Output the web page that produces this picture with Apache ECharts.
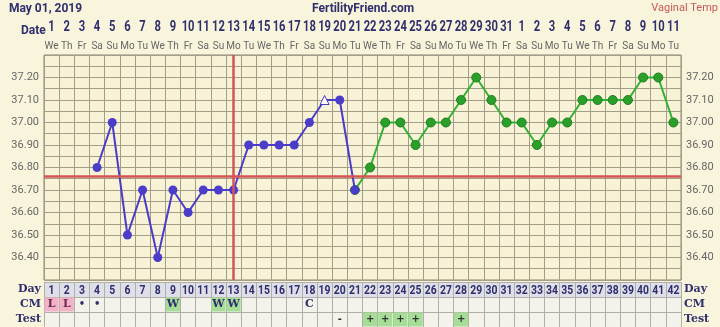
<!DOCTYPE html>
<html><head><meta charset="utf-8">
<script src="https://cdn.jsdelivr.net/npm/echarts@6/dist/echarts.min.js"></script>
<style>html,body{margin:0;padding:0;background:#f9f4dc;}#c{width:720px;height:327px;}</style>
</head><body><div id="c"></div>
<script>
var cycleDays = ['1','2','3','4','5','6','7','8','9','10','11','12','13','14','15','16','17','18','19','20','21','22','23','24','25','26','27','28','29','30','31','32','33','34','35','36','37','38','39','40','41','42'];
var dateLabels = ['1','2','3','4','5','6','7','8','9','10','11','12','13','14','15','16','17','18','19','20','21','22','23','24','25','26','27','28','29','30','31','1','2','3','4','5','6','7','8','9','10','11'];
var weekdays = ['We','Th','Fr','Sa','Su','Mo','Tu','We','Th','Fr','Sa','Su','Mo','Tu','We','Th','Fr','Sa','Su','Mo','Tu','We','Th','Fr','Sa','Su','Mo','Tu','We','Th','Fr','Sa','Su','Mo','Tu','We','Th','Fr','Sa','Su','Mo','Tu'];
var preTemps = [null,null,null,36.80,37.00,36.50,36.70,36.40,36.70,36.60,36.70,36.70,36.70,36.90,36.90,36.90,36.90,37.00,37.10,37.10,36.70,null,null,null,null,null,null,null,null,null,null,null,null,null,null,null,null,null,null,null,null,null];
var postTemps = [null,null,null,null,null,null,null,null,null,null,null,null,null,null,null,null,null,null,null,null,36.70,36.80,37.00,37.00,36.90,37.00,37.00,37.10,37.20,37.10,37.00,37.00,36.90,37.00,37.00,37.10,37.10,37.10,37.10,37.20,37.20,37.00];
var discardedDay = 19;
var coverLine = 36.76;
var ovulationDayIndex = 12;
var cmRow = ['L','L','•','•','','','','','W','','','W','W','','','','','C','','','','','','','','','','','','','','','','','','','','','','','',''];
var testRow = ['','','','','','','','','','','','','','','','','','','','-','','+','+','+','+','','','+','','','','','','','','','','','','','',''];
var tableRows = ['Test','CM','Day'];

var NAVY = '#2f2f6e', BLUE = '#4b3cc9', GREEN = '#2a9f2a';
var cellColors = {'L':'#f2b3c6','W':'#a6de98','+':'#a6de98'};

var tableData = [];
cycleDays.forEach(function(d,i){ tableData.push([i,2,d,null]); });
cmRow.forEach(function(t,i){ if(t) tableData.push([i,1,t,cellColors[t]||null]); });
testRow.forEach(function(t,i){ if(t) tableData.push([i,0,t,cellColors[t]||null]); });
var dateData = dateLabels.map(function(d,i){ return [i, 37.3, d]; });

var preData = preTemps.map(function(v,i){
  if (v!==null && cycleDays[i]===String(discardedDay)) return {value:v, symbol:'triangle', symbolSize:9, itemStyle:{color:'#ffffff', borderColor:BLUE, borderWidth:1}};
  return v;
});

function yFmt(v){ var r=Math.round(v*100); if (r%10!==0 || r<3640 || r>3720) return ''; return (r/100).toFixed(2); }
function narrowText(txt, x, y, font, fill){
  return {type:'text', x:x, y:y, scaleX:0.8, style:{text:txt, x:0, y:0, align:'center', verticalAlign:'middle', font:font, fill:fill}};
}

var chart = echarts.init(document.getElementById('c'));
chart.setOption({
  backgroundColor:'#f9f4dc',
  animation:false,
  graphic:[
    {type:'text', left:9, top:3, style:{text:'May 01, 2019', font:'bold 12px Roboto', fill:NAVY}},
    {type:'text', left:312, top:3, style:{text:'FertilityFriend.com', font:'bold 12px Roboto', fill:NAVY}},
    {type:'text', right:2, top:3, style:{text:'Vaginal Temp', font:'11px Roboto', fill:'#c65a5a'}},
    {type:'text', left:21, top:25, style:{text:'Date', font:'bold 12px Roboto', fill:NAVY}}
  ],
  grid:[
    {left:44, right:39, top:55, height:225, show:true, backgroundColor:'#f8f3d6', borderColor:'#8a8470', borderWidth:1},
    {left:44, right:39, top:282, height:45, show:false}
  ],
  xAxis:[
    {type:'category', gridIndex:0, position:'top', data:weekdays, boundaryGap:true,
     axisLine:{show:false}, axisTick:{show:false},
     axisLabel:{interval:0, margin:4, fontSize:10, color:'#666', fontFamily:'Roboto'},
     splitLine:{show:true, interval:0, lineStyle:{color:'#a49e88', width:1}}},
    {type:'category', gridIndex:1, data:cycleDays, boundaryGap:true,
     axisLine:{show:false}, axisTick:{show:false}, axisLabel:{show:false},
     splitLine:{show:true, interval:0, lineStyle:{color:'#b0b0a8', width:1}}}
  ],
  yAxis:[
    {type:'value', gridIndex:0, min:36.3, max:37.3, interval:0.05, position:'left',
     axisLine:{show:false}, axisTick:{show:false},
     axisLabel:{formatter:yFmt, fontSize:11, color:'#666', margin:5, fontFamily:'Roboto'},
     splitLine:{show:true, lineStyle:{color:'#a49e88', width:1}}},
    {type:'value', gridIndex:0, min:36.3, max:37.3, interval:0.05, position:'right',
     axisLine:{show:false}, axisTick:{show:false},
     axisLabel:{formatter:yFmt, fontSize:11, color:'#666', margin:5, fontFamily:'Roboto'},
     splitLine:{show:false}},
    {type:'category', gridIndex:1, data:tableRows, position:'left',
     axisLine:{show:false}, axisTick:{show:false},
     axisLabel:{margin:3, fontSize:11, fontWeight:'bold', color:NAVY, fontFamily:'DejaVu Serif'},
     splitLine:{show:true, interval:0, lineStyle:{color:'#b0b0a8'}},
     splitArea:{show:true, interval:0, areaStyle:{color:['#f3f3ec','#f3f3ec','#dedfe8']}}},
    {type:'category', gridIndex:1, data:tableRows, position:'right',
     axisLine:{show:false}, axisTick:{show:false},
     axisLabel:{margin:3, fontSize:11, fontWeight:'bold', color:NAVY, fontFamily:'DejaVu Serif'}}
  ],
  series:[
    {type:'line', xAxisIndex:0, yAxisIndex:0, data:postTemps, symbol:'circle', symbolSize:9,
     lineStyle:{color:'#33b133', width:2}, itemStyle:{color:GREEN, borderColor:'#1d7f1d', borderWidth:1}, z:3},
    {type:'line', xAxisIndex:0, yAxisIndex:0, data:preData, symbol:'circle', symbolSize:9,
     lineStyle:{color:BLUE, width:2}, itemStyle:{color:BLUE}, z:4,
     markLine:{silent:true, symbol:'none', label:{show:false},
       data:[{yAxis:coverLine, lineStyle:{color:'#d45454', width:2.5, type:'solid'}},
             {xAxis:ovulationDayIndex, lineStyle:{color:'#d45454', width:2.5, type:'solid'}}]}},
    {type:'custom', xAxisIndex:0, yAxisIndex:0, data:dateData, clip:false, z:5,
     renderItem:function(params, api){
       var c = api.coord([api.value(0), api.value(1)]);
       return narrowText(dateData[params.dataIndex][2], c[0], c[1]-28, 'bold 14px Roboto', NAVY);
     }},
    {type:'custom', xAxisIndex:1, yAxisIndex:2, data:tableData, z:5,
     renderItem:function(params, api){
       var c = api.coord([api.value(0), api.value(1)]);
       var s = api.size([1,1]);
       var txt = tableData[params.dataIndex][2];
       var bg = tableData[params.dataIndex][3];
       var row = api.value(1);
       var children = [];
       if (bg) children.push({type:'rect', shape:{x:c[0]-s[0]/2+0.5, y:c[1]-s[1]/2+0.5, width:s[0]-1, height:s[1]-1}, style:{fill:bg}});
       if (row===2) { children.push(narrowText(txt, c[0], c[1]+1, 'bold 13px Roboto', NAVY)); }
       else {
         var font = (txt==='•') ? 'bold 10px DejaVu Sans' : 'bold 11px DejaVu Serif';
         var col = (txt==='L') ? '#6a2850' : NAVY;
         if (txt==='+' || txt==='-') { font='bold 10px DejaVu Sans'; col='#333'; }
         children.push({type:'text', style:{text:txt, x:c[0], y:c[1], align:'center', verticalAlign:'middle', font:font, fill:col}});
       }
       return {type:'group', children:children};
     }}
  ]
});
</script></body></html>
